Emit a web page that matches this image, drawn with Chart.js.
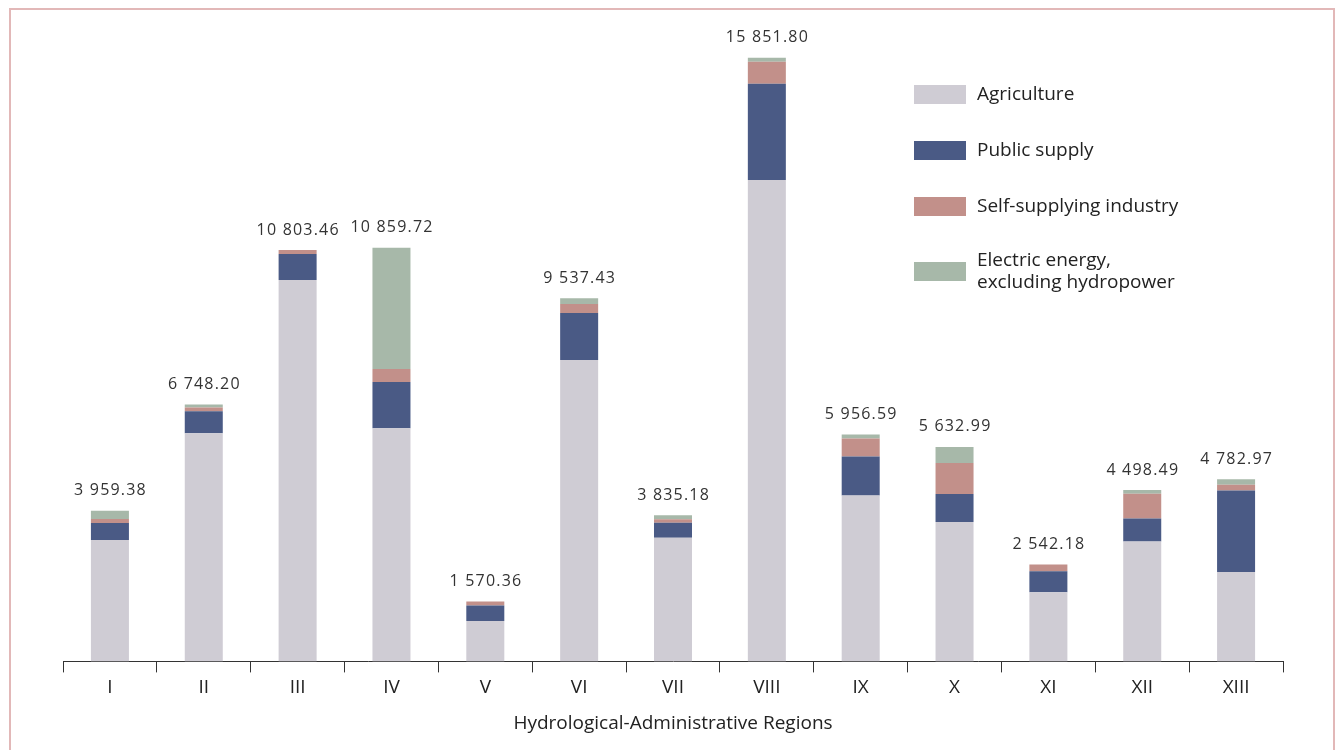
<!DOCTYPE html>
<html>
<head>
<meta charset="utf-8">
<script src="https://cdn.jsdelivr.net/npm/chart.js@4.4.0/dist/chart.umd.min.js"></script>
<style>
  html, body { margin: 0; padding: 0; background: #fff; }
  #wrap { position: relative; width: 1337px; height: 750px; overflow: hidden; }
  #frame { position: absolute; left: 9px; top: 8px; width: 1326px; height: 760px;
           border: 2px solid #e2b8b8; box-sizing: border-box; }
  canvas { position: absolute; left: 0; top: 0; }
</style>
</head>
<body>
<div id="wrap">
  <div id="frame"></div>
  <canvas id="chart" width="1337" height="750"></canvas>
</div>
<script>
const regions = ['I', 'II', 'III', 'IV', 'V', 'VI', 'VII', 'VIII', 'IX', 'X', 'XI', 'XII', 'XIII'];
const totals = [3959.38, 6748.20, 10803.46, 10859.72, 1570.36, 9537.43, 3835.18, 15851.80, 5956.59, 5632.99, 2542.18, 4498.49, 4782.97];

// hm3 per use
const agriculture = [3190, 5990, 10015, 6126, 1060, 7913, 3250, 12645, 4354, 3660, 1814, 3150, 2350];
const publicSupply = [447, 578, 684, 1209, 405, 1236, 390, 2524, 1025, 736, 552, 600, 2140];
const industry = [105, 100, 104.46, 342, 105.36, 237, 90, 578, 473, 815, 176.18, 650, 150];
const electric = [217.38, 80.2, 0, 3182.72, 0, 151.43, 105.18, 104.8, 104.59, 421.99, 0, 98.49, 142.97];

const seriesNames = ['Agriculture', 'Public supply', 'Self-supplying industry', ['Electric energy,', 'excluding hydropower']];
const seriesColors = ['#cfccd4', '#4a5a85', '#c2908a', '#a7b8a9'];

const FONT = '"Open Sans", "Noto Sans", sans-serif';

function fmt(v) {
	let s = v.toFixed(2).split('.');
	return s[0].replace(/\B(?=(\d{3})+(?!\d))/g, ' ') + '.' + s[1];
}

// totals above each stack
const totalLabels = {
	id: 'totalLabels',
	afterDatasetsDraw(chart) {
		const c = chart.ctx;
		const meta = chart.getDatasetMeta(chart.data.datasets.length - 1);
		const y = chart.scales.y;
		c.save();
		c.font = '16px ' + FONT;
		c.letterSpacing = '1.2px';
		c.fillStyle = '#333';
		c.textAlign = 'center';
		c.textBaseline = 'middle';
		meta.data.forEach((bar, i) => {
			c.fillText(fmt(totals[i]), bar.x + 0.6, y.getPixelForValue(totals[i]) - 20);
		});
		c.restore();
	}
};

// legend on the right, drawn by hand for the spacing
const sideLegend = {
	id: 'sideLegend',
	afterDraw(chart) {
		const c = chart.ctx;
		const rows = [94.5, 150.5, 206.5, 271.5];
		c.save();
		c.font = '19px ' + FONT;
		c.textBaseline = 'middle';
		chart.data.datasets.forEach((ds, i) => {
			c.fillStyle = ds.backgroundColor;
			c.fillRect(914, rows[i] - 9.5, 52, 19);
			c.fillStyle = '#222';
			const lines = Array.isArray(ds.label) ? ds.label : [ds.label];
			const off = (lines.length - 1) * 11;
			lines.forEach((t, k) => c.fillText(t, 977, rows[i] - off + k * 22));
		});
		c.restore();
	}
};

const datasets = [agriculture, publicSupply, industry, electric].map((d, i) => ({
	label: seriesNames[i],
	data: d,
	backgroundColor: seriesColors[i],
	borderWidth: 0,
	barPercentage: 0.405,
	categoryPercentage: 1.0
}));

new Chart(document.getElementById('chart').getContext('2d'), {
	type: 'bar',
	data: { labels: regions, datasets: datasets },
	options: {
		responsive: false,
		animation: false,
		layout: { padding: { left: 63, right: 54, top: 35, bottom: 15 } },
		plugins: {
			legend: { display: false },
			tooltip: { enabled: false }
		},
		scales: {
			x: {
				stacked: true,
				offset: true,
				border: { display: true, color: '#333', width: 1 },
				grid: { offset: true, drawOnChartArea: false, drawTicks: true, tickLength: 11, color: '#333' },
				ticks: { color: '#222', font: { family: FONT, size: 19 }, padding: 4 },
				title: { display: true, text: 'Hydrological-Administrative Regions', color: '#222',
				         font: { family: FONT, size: 19 }, padding: { top: 9, bottom: 0 } }
			},
			y: {
				stacked: true,
				display: false,
				min: 0,
				max: 16450
			}
		}
	},
	plugins: [totalLabels, sideLegend]
});
</script>
</body>
</html>
